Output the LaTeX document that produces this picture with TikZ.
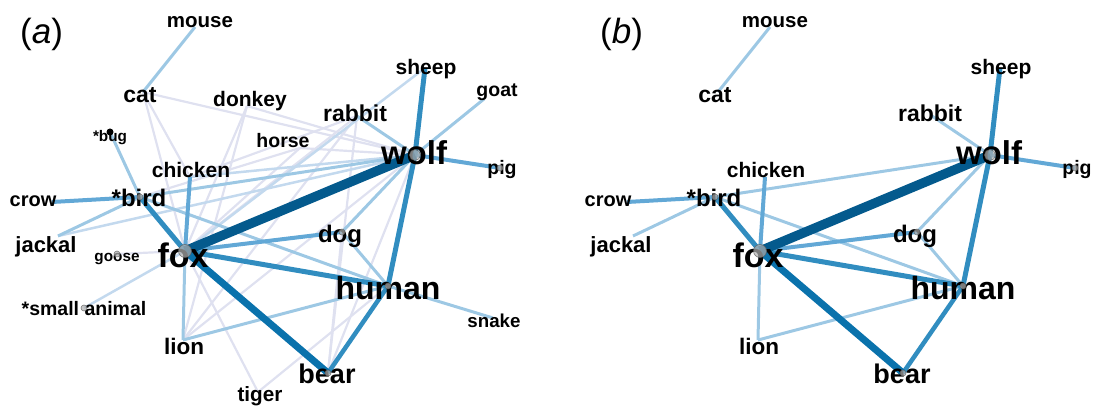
\documentclass[tikz,border=0pt]{standalone}
\usepackage{fontspec}
\setmainfont{Liberation Sans}
\definecolor{cA}{HTML}{045A8D}
\definecolor{cB}{HTML}{0A72AC}
\definecolor{cC}{HTML}{318DC0}
\definecolor{cD}{HTML}{62A8D6}
\definecolor{cE}{HTML}{9DC8E4}
\definecolor{cF}{HTML}{C3D9EE}
\definecolor{cG}{HTML}{DFE1F0}
\begin{document}
\begin{tikzpicture}[x=1pt,y=-1pt,
  lbl/.style={anchor=base,inner sep=0pt,font=\bfseries\fontsize{#1}{#1}\selectfont},
  vtx/.style={circle,inner sep=0pt,minimum size=#1,fill=gray!60,draw=gray!75!black,line width=0.6pt,fill opacity=0.7,draw opacity=0.8},
  eA/.style={draw=cA,line width=9.5pt},
  eB/.style={draw=cB,line width=7pt},
  eC/.style={draw=cC,line width=5pt},
  eD/.style={draw=cD,line width=4pt},
  eE/.style={draw=cE,line width=3pt},
  eF/.style={draw=cF,line width=2.5pt},
  eG/.style={draw=cG,line width=2.2pt},
  panel/.style={anchor=base west,inner sep=0pt,font=\fontsize{35}{35}\selectfont}
]
\useasboundingbox (0,0) rectangle (1096,406);
% vertex positions
\foreach \n/\x/\y in {mouse/195/27, cat/143/92, bug/110/132, donkey/247/106, horse/300/148,
  rabbit/357/116, sheep/425/68, goat/484/99, wolf/415/155, pig/500/168, chicken/190/177,
  bird/140/197, crow/52/202, jackal/58/236, goose/117/254, fox/185/251, small/84/308,
  lion/183/340, tiger/258/392, bear/328/373, human/388/286, dog/342/232, snake/493/318}
{\coordinate (a-\n) at (\x,\y); \coordinate (b-\n) at (\x+575,\y);}

% ---------- panel (a) edges ----------
\foreach \u/\v in {cat/wolf, cat/chicken, cat/fox, donkey/fox, donkey/lion, donkey/wolf,
  horse/wolf, horse/fox, horse/bird, rabbit/fox, rabbit/lion, rabbit/bear, tiger/fox,
  tiger/human, bear/wolf, goose/fox, wolf/lion, rabbit/chicken, dog/bear}
  \draw[eG] (a-\u) -- (a-\v);
\foreach \u/\v in {small/fox, sheep/fox, jackal/wolf, chicken/wolf}
  \draw[eF] (a-\u) -- (a-\v);
\foreach \u/\v in {mouse/cat, rabbit/wolf, jackal/bird, fox/lion, lion/human, wolf/dog,
  dog/human, bird/human, bird/wolf, goat/wolf, bug/bird, snake/human}
  \draw[eE] (a-\u) -- (a-\v);
\foreach \u/\v in {crow/bird, chicken/fox, fox/dog, wolf/pig}
  \draw[eD] (a-\u) -- (a-\v);
\foreach \u/\v in {sheep/wolf, wolf/human, fox/human, bird/fox}
  \draw[eC] (a-\u) -- (a-\v);
\draw[eC,line width=4.5pt] (a-human) -- (a-bear);
\draw[eB] (a-fox) -- (a-bear);
\draw[eA] (a-fox) -- (a-wolf);

% ---------- panel (b) edges ----------
\foreach \u/\v in {mouse/cat, rabbit/wolf, jackal/bird, fox/lion, lion/human, wolf/dog,
  dog/human, bird/human, bird/wolf}
  \draw[eE] (b-\u) -- (b-\v);
\foreach \u/\v in {crow/bird, chicken/fox, fox/dog, wolf/pig}
  \draw[eD] (b-\u) -- (b-\v);
\foreach \u/\v in {sheep/wolf, wolf/human, fox/human, bird/fox}
  \draw[eC] (b-\u) -- (b-\v);
\draw[eC,line width=4.5pt] (b-human) -- (b-bear);
\draw[eB] (b-fox) -- (b-bear);
\draw[eA] (b-fox) -- (b-wolf);

% ---------- labels ----------
\foreach \n/\x/\y/\s/\t in {mouse/200/28/20.5/mouse, cat/140/103/23/cat, bug/110/142/15.3/*bug,
  donkey/250/107/21/donkey, horse/283/148/19.5/horse, rabbit/355/122/23/rabbit,
  sheep/426/75/21/sheep, goat/497/97/19.5/goat, wolf/414/165/33/wolf, pig/502/175/19.5/pig,
  chicken/191/178/21/chicken, bird/139/207/24/*bird, crow/33/207/20/crow,
  jackal/46/253/22/jackal, goose/117/262/15.3/goose, fox/183/268/34/fox,
  small/84/316/19.5/*small animal, lion/184/354/22.5/lion, tiger/260/401/20.7/tiger,
  bear/327/383/27/bear, human/388/300/32/human, dog/340/243/24/dog, snake/494/327/18.7/snake}
  \node[lbl=\s] (la-\n) at (\x,\y) {\t};
\foreach \n/\x/\y/\s/\t in {mouse/200/28/20.5/mouse, cat/140/103/23/cat,
  rabbit/355/122/23/rabbit, sheep/426/75/21/sheep, wolf/414/165/33/wolf, pig/502/175/19.5/pig,
  chicken/191/178/21/chicken, bird/139/207/24/*bird, crow/33/207/20/crow,
  jackal/46/253/22/jackal, fox/183/268/34/fox, lion/184/354/22.5/lion,
  bear/327/383/27/bear, human/388/300/32/human, dog/340/243/24/dog}
  \node[lbl=\s] (lb-\n) at (\x+575,\y) {\t};

% ---------- vertex markers ----------
\foreach \n in {goose, small, human, bear, dog, pig, bird}
  \node[vtx=6pt] (va-\n) at (a-\n) {};
\node[vtx=13pt] (va-fox) at (a-fox) {};
\node[vtx=11pt] (va-wolf) at (a-wolf) {};
\node[circle,inner sep=0pt,minimum size=7pt,fill=black] (va-bug) at (a-bug) {};
\foreach \n in {human, bear, dog, pig, bird}
  \node[vtx=6pt] (vb-\n) at (b-\n) {};
\node[vtx=13pt] (vb-fox) at (b-fox) {};
\node[vtx=11pt] (vb-wolf) at (b-wolf) {};

% panel letters
\node[panel] (pa) at (20,44) {(\textit{a})};
\node[panel] (pb) at (600,44) {(\textit{b})};
\end{tikzpicture}
\end{document}
